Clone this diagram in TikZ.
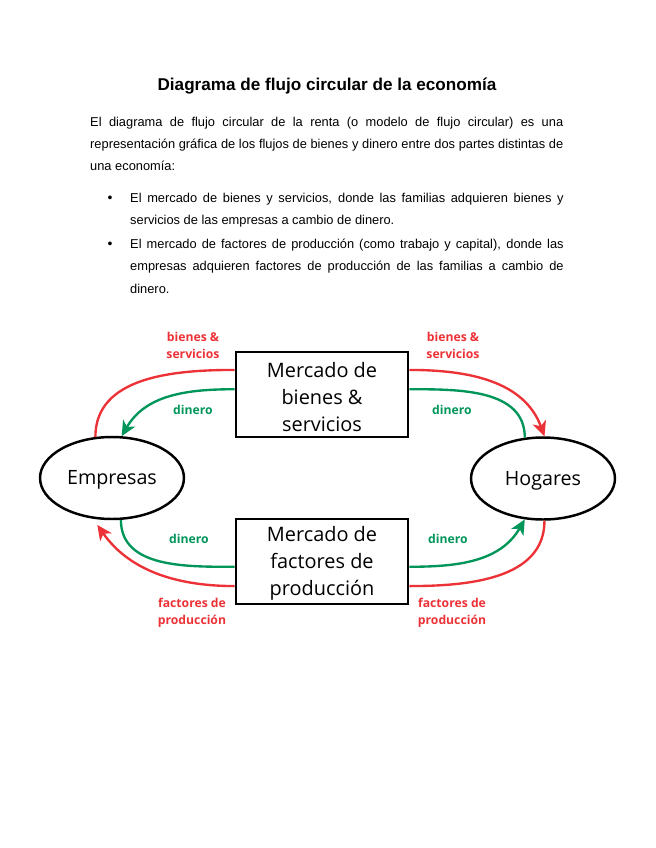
\documentclass[tikz,border=0pt]{standalone}
\usepackage{fontspec}
\setmainfont{Liberation Sans}
\newfontfamily\diagfont{Open Sans}
\usetikzlibrary{arrows.meta,calc,shapes.geometric}
\definecolor{myred}{RGB}{237,50,55}
\definecolor{mygreen}{RGB}{0,150,90}
\begin{document}
\begin{tikzpicture}[x=0.9344pt,y=-0.9344pt,
  bodytext/.style={anchor=north west,inner sep=0pt,align=justify,font=\fontsize{12}{21}\selectfont},
  mbox/.style={draw,line width=2.5pt,minimum width=160.7pt,minimum height=79.5pt,inner sep=0pt,align=center,font=\diagfont\fontsize{18.6}{25.2}\selectfont},
  agent/.style={draw,ellipse,line width=2.3pt,minimum width=134.5pt,minimum height=76.6pt,inner sep=0pt,font=\diagfont\fontsize{18.4}{20}\selectfont},
  flow/.style={line width=2.2pt},
  redflow/.style={flow,myred},
  greenflow/.style={flow,mygreen},
  tip/.style={-{Stealth[length=14pt,width=13pt,inset=4pt]}},
  lbl/.style={align=center,inner sep=0pt,font=\diagfont\bfseries\fontsize{11.4}{16}\selectfont},
  redlbl/.style={lbl,text=myred},
  greenlbl/.style={lbl,text=mygreen}]
\useasboundingbox (0,0) rectangle (655,848);
\fill[white] (0,0) rectangle (655,848);

\node[font=\bfseries\fontsize{16}{18}\selectfont] (title) at (327,86) {Diagrama de flujo circular de la economía};

\node[bodytext,text width=442pt] (p1) at (90,116.5) {El diagrama de flujo circular de la renta (o modelo de flujo circular) es una\linebreak representación gráfica de los flujos de bienes y dinero entre dos partes distintas de\linebreak una economía:};

\node[inner sep=0pt,font=\fontsize{13}{21}\selectfont] (bul1) at (110,199) {•};
\node[bodytext,text width=405pt] (p2) at (130,192.5) {El mercado de bienes y servicios, donde las familias adquieren bienes y\linebreak servicios de las empresas a cambio de dinero.};
\node[inner sep=0pt,font=\fontsize{13}{21}\selectfont] (bul2) at (110,245) {•};
\node[bodytext,text width=405pt] (p3) at (130,238.5) {El mercado de factores de producción (como trabajo y capital), donde las\linebreak empresas adquieren factores de producción de las familias a cambio de\linebreak dinero.};

% diagram
\node[mbox] (mb) at (322,394.5) {\rule{0pt}{18pt}Mercado de\\bienes \&\\servicios};
\node[mbox] (mf) at (322,561.5) {\rule{0pt}{18pt}Mercado de\\factores de\\producción};
\node[agent] (emp) at (112,478) {\rule{0pt}{17pt}Empresas\hspace{6pt}};
\node[agent] (hog) at (543,478.5) {\rule{0pt}{17pt}Hogares};

\coordinate (mbLr) at ($(mb.north west)!0.22!(mb.south west)$);
\coordinate (mbLg) at ($(mb.north west)!0.44!(mb.south west)$);
\coordinate (mbRr) at ($(mb.north east)!0.22!(mb.south east)$);
\coordinate (mbRg) at ($(mb.north east)!0.44!(mb.south east)$);
\coordinate (mfLg) at ($(mf.north west)!0.56!(mf.south west)$);
\coordinate (mfLr) at ($(mf.north west)!0.78!(mf.south west)$);
\coordinate (mfRg) at ($(mf.north east)!0.56!(mf.south east)$);
\coordinate (mfRr) at ($(mf.north east)!0.78!(mf.south east)$);

% top
\draw[redflow] (emp.112) to[out=90,in=180] (mbLr);
\draw[redflow,tip] (mbRr) to[out=0,in=110] (hog.88);
\draw[greenflow] (hog.114) to[out=90,in=0] (mbRg);
\draw[greenflow,tip] (mbLg) to[out=180,in=60] (emp.77);
% bottom
\draw[greenflow] (emp.-78) to[out=-90,in=180] (mfLg);
\draw[greenflow,tip] (mfRg) to[out=0,in=-120] (hog.-114);
\draw[redflow] (hog.-88) to[out=-90,in=0] (mfRr);
\draw[redflow,tip,shorten >=7pt] (mfLr) to[out=180,in=-55] (emp.-115);

% labels
\node[redlbl] (l1) at (193,345.5) {bienes \&\\servicios};
\node[redlbl] (l2) at (453,345.5) {bienes \&\\servicios};
\node[greenlbl] (l3) at (193,410) {dinero};
\node[greenlbl] (l4) at (452,410) {dinero};
\node[greenlbl] (l5) at (189,539) {dinero};
\node[greenlbl] (l6) at (448,539) {dinero};
\node[redlbl] (l7) at (192,612.5) {factores de\\producción};
\node[redlbl] (l8) at (452,612.5) {factores de\\producción};
\end{tikzpicture}
\end{document}
